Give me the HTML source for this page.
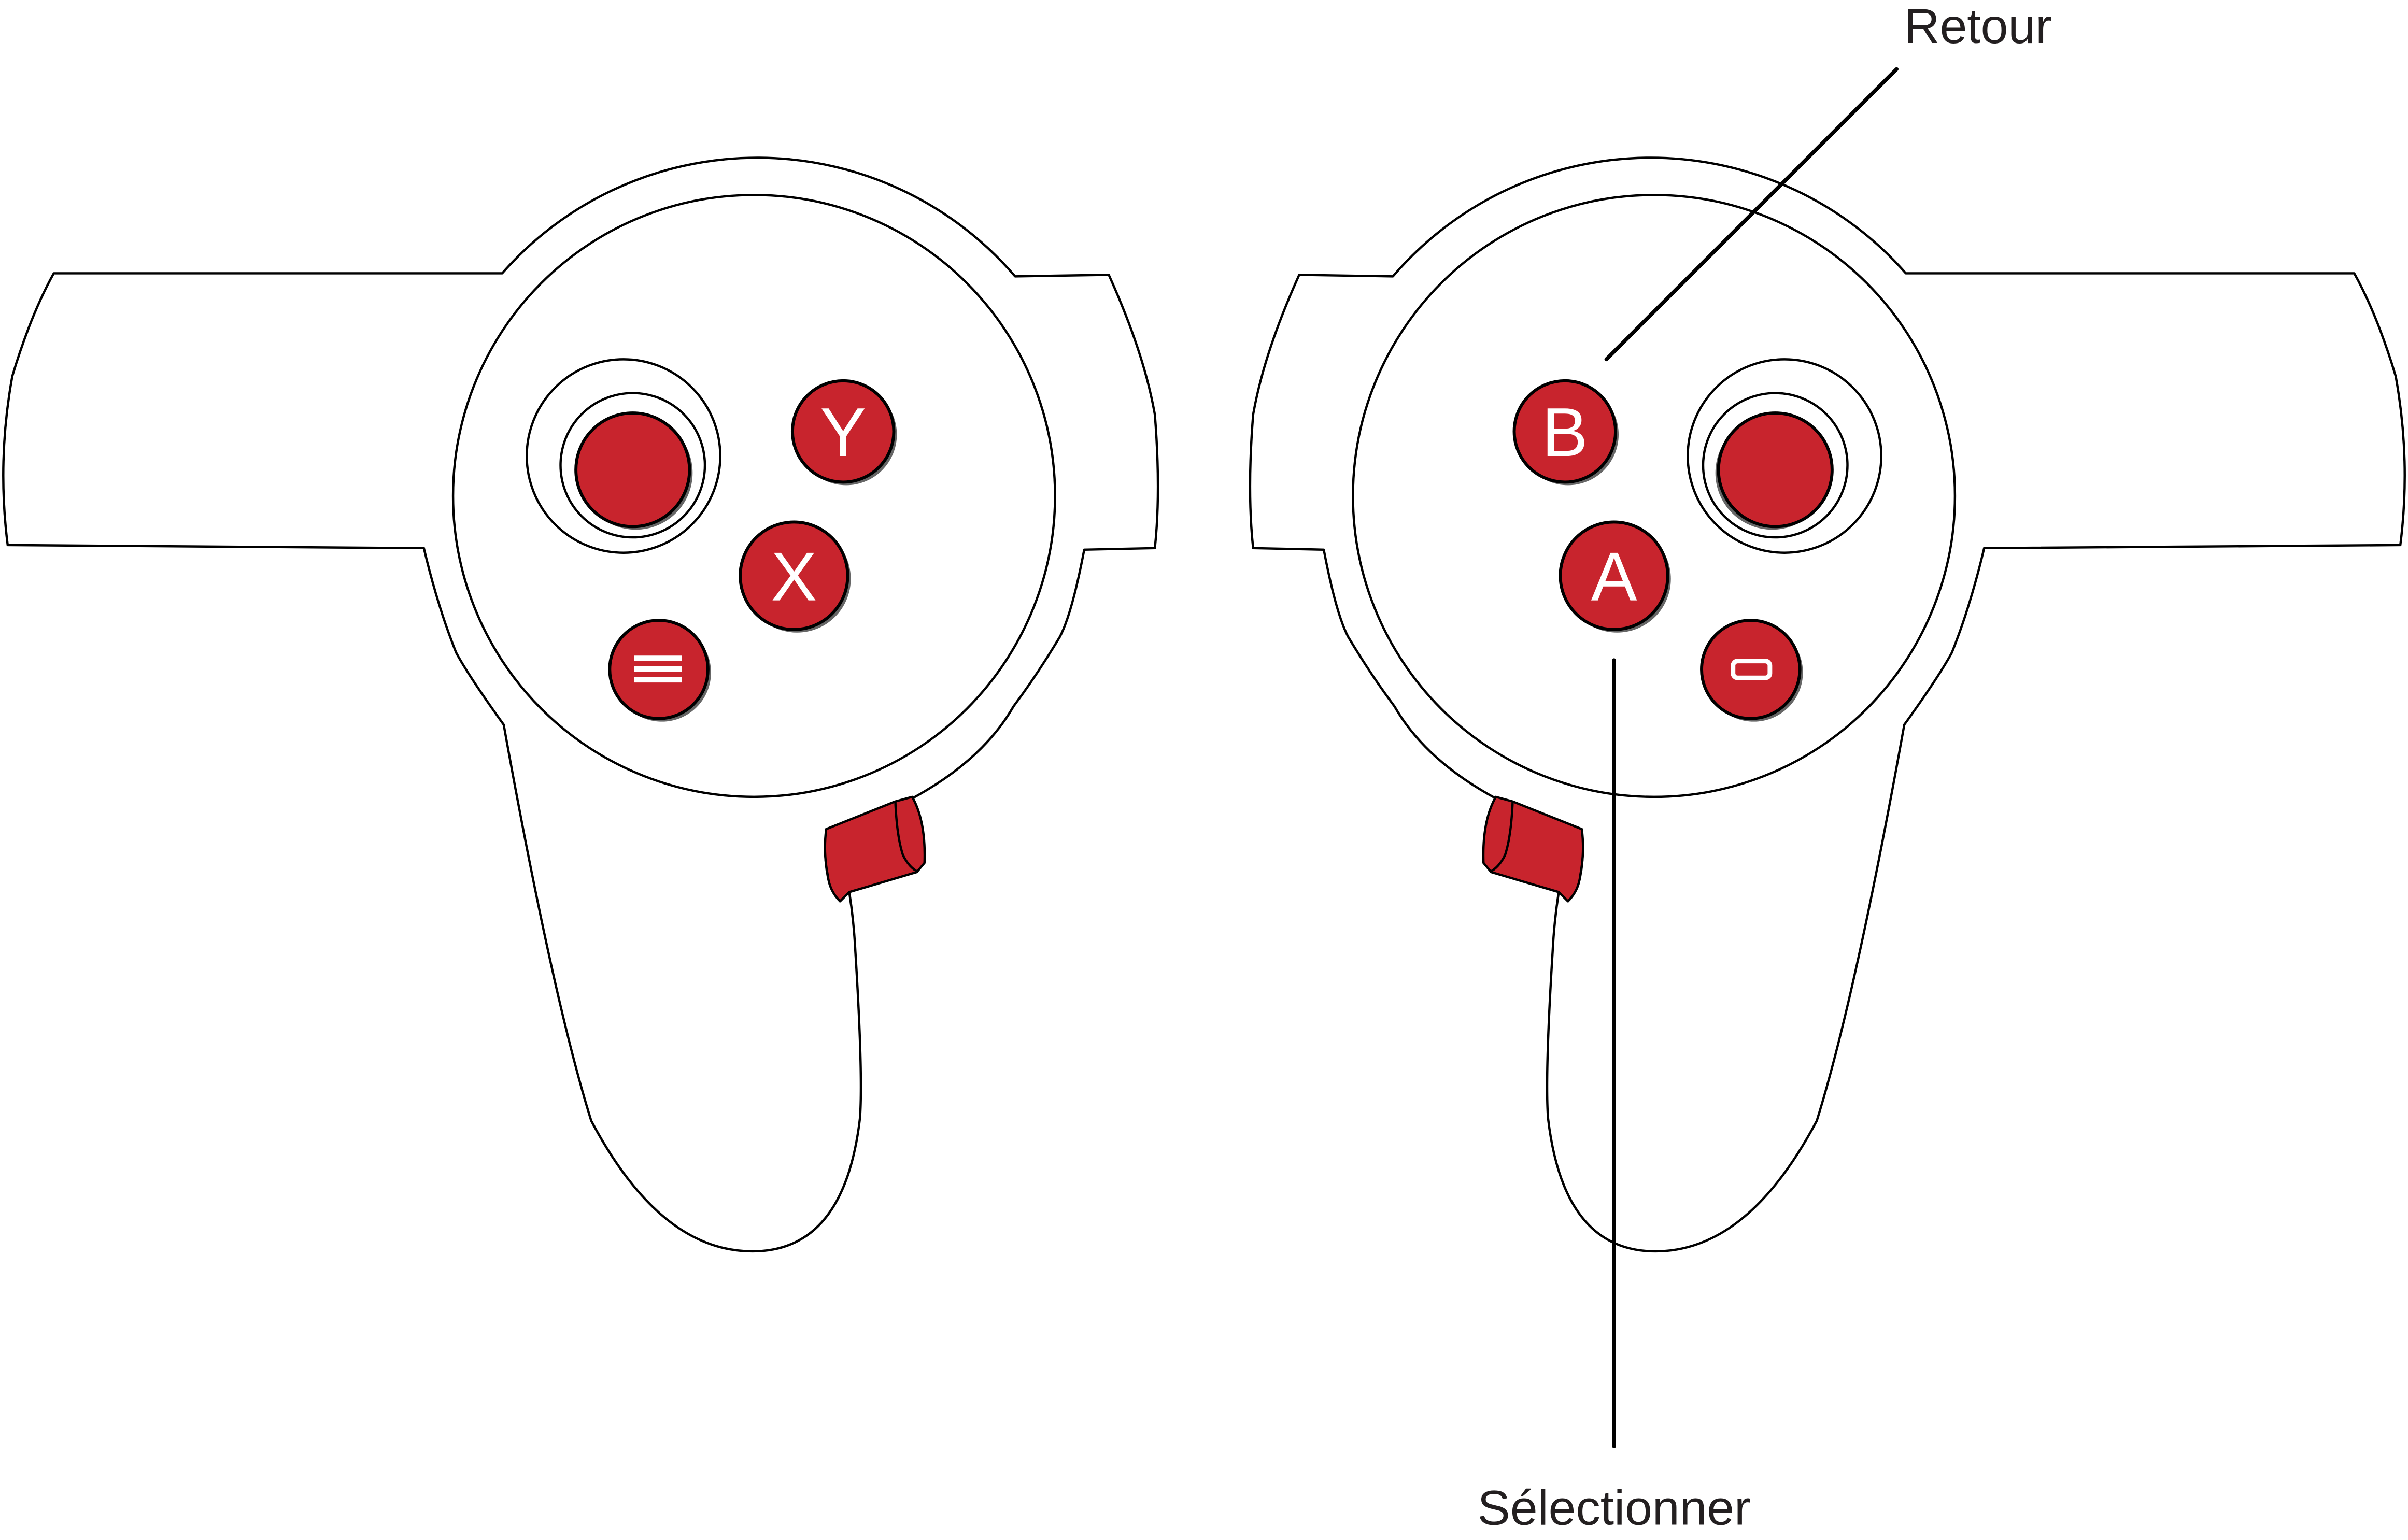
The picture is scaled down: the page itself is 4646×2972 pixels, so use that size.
<!DOCTYPE html>
<html><head><meta charset="utf-8"><style>html,body{margin:0;padding:0;background:#fff}svg{display:block}</style></head>
<body>
<svg width="4646" height="2972" viewBox="0 0 1568 1003" preserveAspectRatio="none" xmlns="http://www.w3.org/2000/svg">
<defs>
<g id="body" fill="#fff" stroke="#000" stroke-width="1.5" stroke-linejoin="round">
<path d="M327,178 A221,221 0 0 1 661,180 L722,179 Q745,230 752,270 Q756,320 752,357 L706,358 Q698,400 690,415 Q675,440 660,460 Q640,495 594,520 L538,540 Q536,560 540,575 L547,587 L553,581 Q556,600 557,620 Q562,700 560,728 Q550,815 490,815 Q430,815 385,730 Q360,650 328,472 Q305,440 297,425 Q285,395 276,357 L5,355 Q-2,300 8,245 Q20,205 35,178 Z"/>
<circle cx="491" cy="323" r="196"/>
<path d="M538,540 L583,522 L594,519 Q603,535 602,562 L597,568 L553,581 L547,587 Q540,580 539,570 Q536,555 538,540 Z" fill="#c8242d"/>
<path d="M583,522 Q584,545 588,557 Q592,565 598,568" fill="none"/>
<circle cx="406" cy="297" r="63"/>
<circle cx="412" cy="303" r="47"/>
<circle cx="414" cy="308" r="37" fill="#666" stroke="none"/>
<circle cx="412" cy="306" r="37" fill="#c8242d" stroke-width="2"/>
</g>
</defs>
<use href="#body"/>
<use href="#body" transform="translate(1568,0) scale(-1,1)"/>
<g stroke="#000" stroke-width="2">
<circle cx="551" cy="283" r="33" fill="#666" stroke="none"/>
<circle cx="549" cy="281" r="33" fill="#c8242d"/>
<circle cx="519" cy="377" r="35" fill="#666" stroke="none"/>
<circle cx="517" cy="375" r="35" fill="#c8242d"/>
<circle cx="431" cy="438" r="32" fill="#666" stroke="none"/>
<circle cx="429" cy="436" r="32" fill="#c8242d"/>
<circle cx="1021" cy="283" r="33" fill="#666" stroke="none"/>
<circle cx="1019" cy="281" r="33" fill="#c8242d"/>
<circle cx="1053" cy="377" r="35" fill="#666" stroke="none"/>
<circle cx="1051" cy="375" r="35" fill="#c8242d"/>
<circle cx="1142" cy="438" r="32" fill="#666" stroke="none"/>
<circle cx="1140" cy="436" r="32" fill="#c8242d"/>
</g>
<g fill="#fff">
<rect x="413" y="427" width="31" height="3.5"/><rect x="413" y="434" width="31" height="3.5"/><rect x="413" y="441" width="31" height="3.5"/>
<rect x="1128.5" y="430.5" width="24" height="11" rx="3" fill="none" stroke="#fff" stroke-width="3"/>
</g>
<g font-family="Liberation Sans, sans-serif" fill="#fff" font-size="45" text-anchor="middle">
<text x="549" y="297">Y</text>
<text x="517" y="391">X</text>
<text x="1019" y="297">B</text>
<text x="1051" y="391">A</text>
</g>
<g stroke="#000" stroke-width="2.5" stroke-linecap="round">
<line x1="1235" y1="45" x2="1046" y2="234"/>
<line x1="1051" y1="430" x2="1051" y2="942"/>
</g>
<g font-family="Liberation Sans, sans-serif" fill="#231f20" font-size="32">
<text x="1240" y="28">Retour</text>
<text x="1051" y="993" text-anchor="middle">Sélectionner</text>
</g>
</svg>
</body></html>
